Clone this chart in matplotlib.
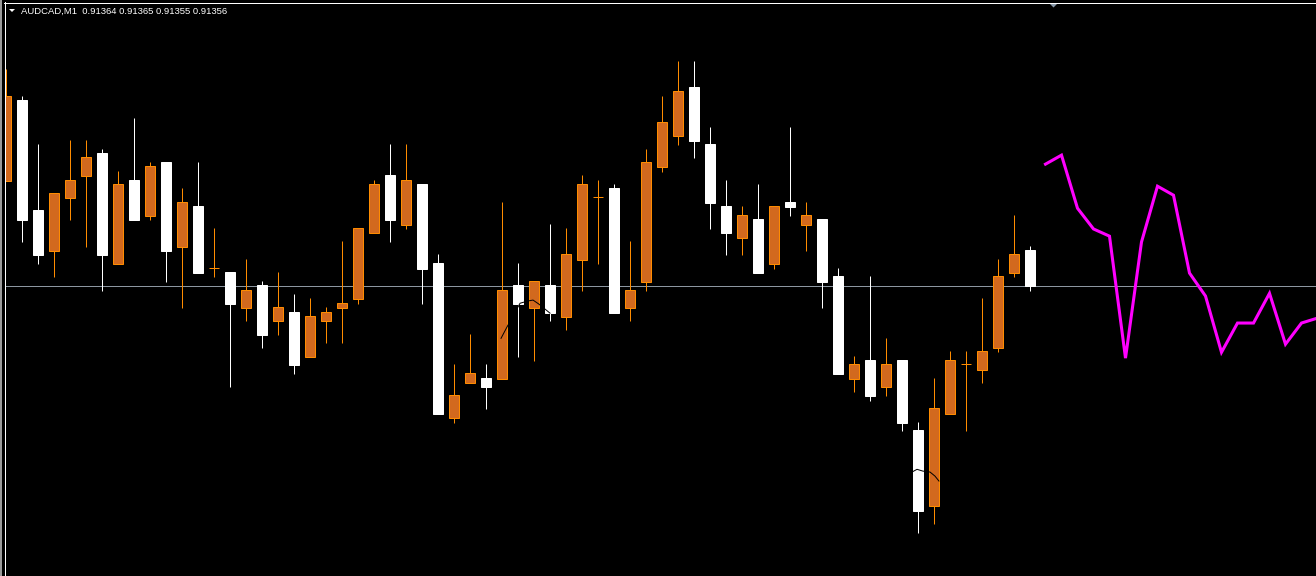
import numpy as np
import matplotlib.pyplot as plt
from matplotlib.lines import Line2D
from matplotlib.patches import Polygon, Rectangle

symbol = "AUDCAD,M1"
bid = 0.91356

# M1 bars, oldest first
opens = [0.913793, 0.913973, 0.913729, 0.913638, 0.913756, 0.913804, 0.913856, 0.913609,
         0.913796, 0.913716, 0.913836, 0.913647, 0.913738, 0.913600, 0.913591, 0.913511,
         0.913562, 0.913482, 0.913502, 0.913402, 0.913482, 0.913511, 0.913531, 0.913678,
         0.913807, 0.913696, 0.913787, 0.913611, 0.913267, 0.913344, 0.913356, 0.913353,
         0.913562, 0.913511, 0.913562, 0.913491, 0.913618, 0.913758, 0.913778, 0.913511,
         0.913569, 0.913824, 0.913893, 0.914002, 0.913876, 0.913738, 0.913667, 0.913709,
         0.913609, 0.913747, 0.913696, 0.913709, 0.913582, 0.913353, 0.913396, 0.913336,
         0.913396, 0.913240, 0.913071, 0.913276, 0.913387, 0.913373, 0.913422, 0.913589,
         0.91364]
highs = [0.914042, 0.913982, 0.913876, 0.913767, 0.913884, 0.913884, 0.913864, 0.913816,
         0.913933, 0.913836, 0.913836, 0.913778, 0.913836, 0.913689, 0.913591, 0.913620,
         0.913571, 0.913591, 0.913542, 0.913533, 0.913513, 0.913660, 0.913689, 0.913796,
         0.913876, 0.913876, 0.913787, 0.913631, 0.913387, 0.913453, 0.913387, 0.913747,
         0.913611, 0.913571, 0.913698, 0.913689, 0.913807, 0.913796, 0.913787, 0.913660,
         0.913864, 0.913982, 0.914060, 0.914060, 0.913913, 0.913796, 0.913738, 0.913787,
         0.913738, 0.913913, 0.913747, 0.913709, 0.913600, 0.913404, 0.913582, 0.913444,
         0.913396, 0.913258, 0.913356, 0.913416, 0.913416, 0.913533, 0.913620, 0.913718,
         0.91365]
lows = [0.913793, 0.913658, 0.913609, 0.913580, 0.913707, 0.913647, 0.913549, 0.913609,
        0.913707, 0.913707, 0.913569, 0.913511, 0.913589, 0.913580, 0.913336, 0.913482,
        0.913422, 0.913451, 0.913364, 0.913402, 0.913433, 0.913433, 0.913520, 0.913678,
        0.913658, 0.913687, 0.913520, 0.913276, 0.913256, 0.913344, 0.913287, 0.913353,
        0.913402, 0.913393, 0.913482, 0.913462, 0.913549, 0.913609, 0.913500, 0.913482,
        0.913549, 0.913813, 0.913873, 0.913844, 0.913687, 0.913629, 0.913629, 0.913589,
        0.913598, 0.913716, 0.913638, 0.913511, 0.913364, 0.913324, 0.913304, 0.913316,
        0.913238, 0.913011, 0.913031, 0.913276, 0.913238, 0.913344, 0.913413, 0.913580,
        0.91355]
closes = [0.913982, 0.913707, 0.913629, 0.913767, 0.913796, 0.913847, 0.913629, 0.913787,
          0.913707, 0.913827, 0.913638, 0.913747, 0.913589, 0.913600, 0.913520, 0.913551,
          0.913451, 0.913513, 0.913384, 0.913493, 0.913502, 0.913522, 0.913689, 0.913787,
          0.913707, 0.913796, 0.913598, 0.913276, 0.913318, 0.913367, 0.913336, 0.913551,
          0.913520, 0.913571, 0.913500, 0.913631, 0.913787, 0.913758, 0.913500, 0.913551,
          0.913836, 0.913924, 0.913993, 0.913882, 0.913744, 0.913678, 0.913718, 0.913589,
          0.913738, 0.913736, 0.913718, 0.913569, 0.913364, 0.913387, 0.913316, 0.913387,
          0.913256, 0.913060, 0.913289, 0.913396, 0.913387, 0.913416, 0.913582, 0.913631,
          0.91356]

# projected path drawn after the last bar
forecast = [0.913831, 0.913851, 0.913733, 0.913687, 0.913671, 0.913400, 0.913658, 0.913782,
            0.913762, 0.913589, 0.913538, 0.913413, 0.913478, 0.913478, 0.913544, 0.913431,
            0.913478, 0.913489]

# black indicator pieces, only visible where they cross candles
arc1_x = [30.97, 31.34, 32.16, 32.66, 32.97, 33.34, 33.72, 34.03]
arc1_y = [0.913444, 0.913469, 0.913522, 0.913527, 0.913529, 0.913520, 0.913509, 0.913500]
arc2_x = [56.66, 56.97, 57.34, 57.78, 58.09, 58.34]
arc2_y = [0.913147, 0.913153, 0.913149, 0.913147, 0.913138, 0.913127]

W, H = 1316, 576
fig = plt.figure(figsize=(W / 100, H / 100), dpi=100, facecolor='black')
# plot area sits inside the window frame (left edge at px 5, top at px 3)
ax = fig.add_axes([5 / W, 0, 1 - 5 / W, 1 - 3 / H])
ax.set_facecolor('black')
ax.axis('off')
ax.set_xlim(-0.03125, 81.90625)
ax.set_ylim(0.912916, 0.914189)

o, h, l, c = (np.array(a) for a in (opens, highs, lows, closes))
x = np.arange(len(o))
up = c >= o
bull_fill, bull_edge = '#D2691E', '#FF8C00'
px = 0.72  # one pixel in points

ax.axhline(bid, color='#8c96a0', lw=px, zorder=1)

ax.vlines(x[up], l[up], h[up], color=bull_edge, lw=px, zorder=2)
ax.vlines(x[~up], l[~up], h[~up], color='white', lw=px, zorder=2)
lo = np.minimum(o, c)
ht = np.abs(c - o)
ax.bar(x[up], ht[up], bottom=lo[up], width=10 / 16, color=bull_fill,
       edgecolor=bull_edge, lw=px, zorder=3)
ax.bar(x[~up], ht[~up], bottom=lo[~up], width=10 / 16, color='white',
       edgecolor='white', lw=px, zorder=3)

ax.plot(arc1_x, arc1_y, color='black', lw=px, zorder=4)
ax.plot(arc2_x, arc2_y, color='black', lw=px, zorder=4)

fx = np.arange(len(o), len(o) + len(forecast))
ax.plot(fx, forecast, color='#FF00FF', lw=2.2, zorder=5, solid_joinstyle='miter')

# window frame
fig.add_artist(Rectangle((0, 0), 2 / W, 1, transform=fig.transFigure, color='#9a9a9a', lw=0))
fig.add_artist(Line2D([4.5 / W] * 2, [0, 1 - 2 / H], transform=fig.transFigure, color='white', lw=px))
fig.add_artist(Line2D([4 / W, 1], [1 - 2.5 / H] * 2, transform=fig.transFigure, color='white', lw=px))
fig.add_artist(Polygon([(1049 / W, 1 - 3 / H), (1058 / W, 1 - 3 / H), (1053.5 / W, 1 - 7.5 / H)],
                       closed=True, transform=fig.transFigure, color='#8899aa', lw=0))
fig.add_artist(Polygon([(9 / W, 1 - 9 / H), (15 / W, 1 - 9 / H), (12 / W, 1 - 12 / H)],
                       closed=True, transform=fig.transFigure, color='white', lw=0))

title = f"{symbol}  {opens[-1]:.5f} {highs[-1]:.5f} {lows[-1]:.5f} {closes[-1]:.5f}"
fig.text(21 / W, 1 - 14 / H, title, color='white', fontsize=6.8,
         family='Liberation Sans', ha='left', va='baseline')

fig.savefig("out.png", dpi=100, facecolor='black')
